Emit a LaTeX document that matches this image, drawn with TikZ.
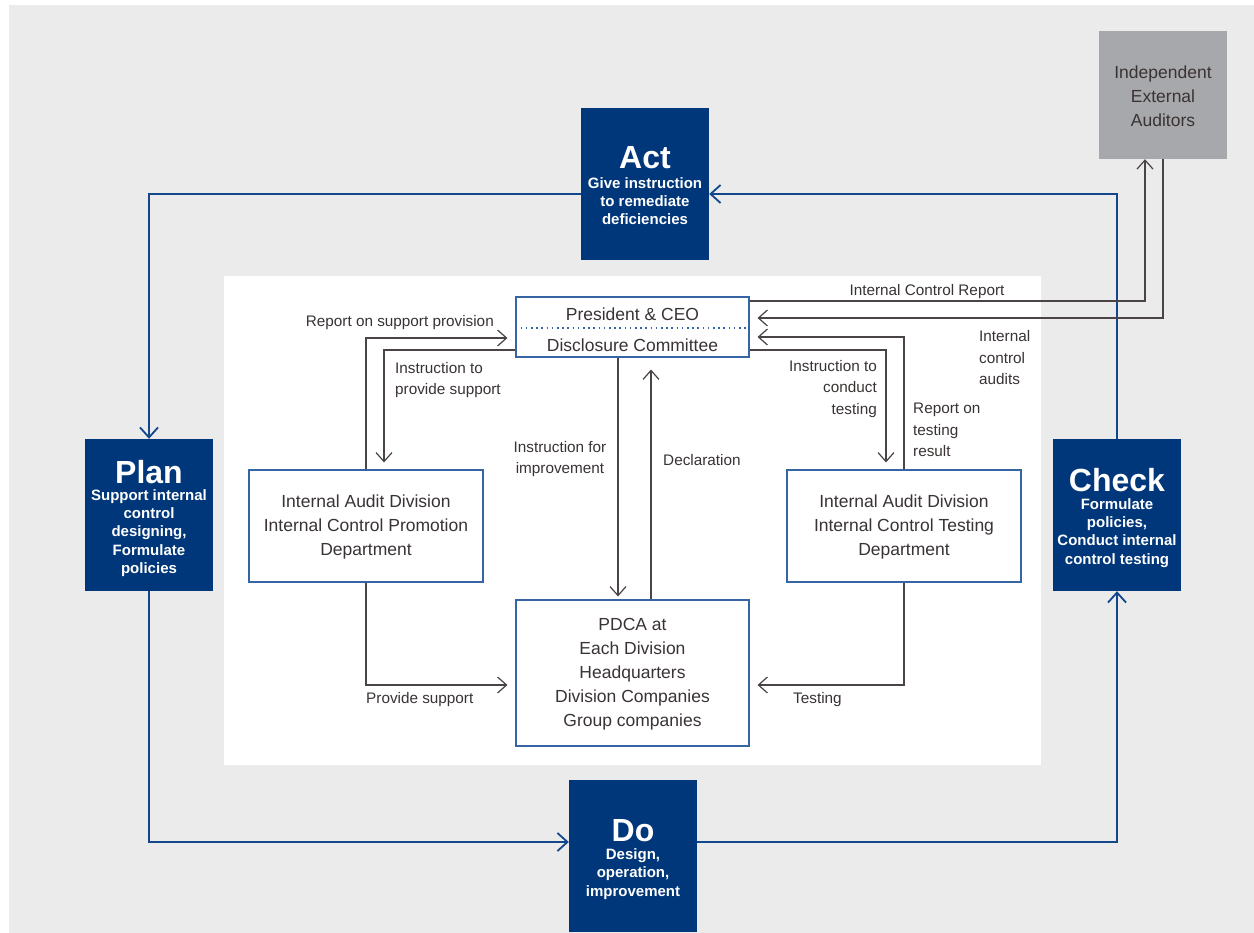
\documentclass[tikz,border=0pt]{standalone}
\usepackage{fontspec}
\setmainfont{Liberation Sans}
\usetikzlibrary{arrows.meta}
\definecolor{bggray}{HTML}{EBEBEB}
\definecolor{pdcablue}{HTML}{00377A}
\definecolor{pdcaline}{HTML}{14468C}
\definecolor{audgray}{HTML}{A7A8AB}
\definecolor{innerline}{HTML}{4A4444}
\definecolor{txtcol}{HTML}{3A3333}
\definecolor{boxline}{HTML}{3565A5}
\begin{document}
\begin{tikzpicture}[x=1pt,y=-1pt,
  pdcabox/.style={fill=pdcablue, draw=none, minimum width=128pt, minimum height=152pt, inner sep=0pt},
  pdcatitle/.style={text=white, font=\bfseries\fontsize{32}{34}\selectfont, inner sep=0pt},
  pdcasub/.style={text=white, font=\bfseries\fontsize{15}{18.3}\selectfont, align=center, inner sep=0pt},
  audbox/.style={fill=audgray, draw=none, minimum width=128pt, minimum height=128pt, inner sep=0pt},
  innerbox/.style={draw=boxline, line width=1.1pt, fill=white, inner sep=0pt},
  boxtext/.style={text=txtcol, font=\fontsize{17.5}{24}\selectfont, align=center, inner sep=0pt},
  lbl/.style={text=txtcol, font=\fontsize{15.3}{21.5}\selectfont, inner sep=0pt},
  bluearrow/.style={draw=pdcaline, line width=2pt, -{Straight Barb[length=10pt,width=18pt,line width=1.8pt]}},
  grayarrow/.style={draw=innerline, line width=1.3pt, -{Straight Barb[length=9pt,width=16pt,line width=1.2pt]}},
  dotline/.style={draw=boxline, line width=1.6pt, dash pattern=on 1.6pt off 3.6pt}
]
\useasboundingbox (0,0) rectangle (1254,933);
\fill[white] (0,0) rectangle (1254,933);
\fill[bggray] (9,5) rectangle (1254,933);
\fill[white] (224,276) rectangle (1041,765);

% PDCA boxes
\node[pdcabox] (act) at (645,184) {};
\node[pdcatitle] (actT) at (645,158) {Act};
\node[pdcasub] (actS) at (645,201) {Give instruction\\to remediate\\deficiencies};

\node[pdcabox] (plan) at (149,515) {};
\node[pdcatitle] (planT) at (149,472) {Plan};
\node[pdcasub] (planS) at (149,533) {Support internal\\control\\designing,\\Formulate\\policies};

\node[pdcabox] (check) at (1117,515) {};
\node[pdcatitle] (checkT) at (1117,480) {Check};
\node[pdcasub] (checkS) at (1117,533) {Formulate\\policies,\\Conduct internal\\control testing};

\node[pdcabox] (do) at (633,856) {};
\node[pdcatitle] (doT) at (633,831) {Do};
\node[pdcasub] (doS) at (633,874) {Design,\\operation,\\improvement};

% auditors
\node[audbox] (aud) at (1163,95) {};
\node[boxtext] (audT) at (1163,96) {Independent\\External\\Auditors};

% inner boxes
\node[innerbox, minimum width=233pt, minimum height=60pt] (pres) at (632.5,327) {};
\node[boxtext] (presT) at (632.5,314) {President \& CEO};
\node[boxtext] (discT) at (632.5,345) {Disclosure Committee};
\draw[dotline] ([yshift=-1pt]pres.west) -- ([yshift=-1pt]pres.east);

\node[innerbox, minimum width=234pt, minimum height=112pt] (lbox) at (366,526) {};
\node[boxtext] (lboxT) at (366,527) {Internal Audit Division\\Internal Control Promotion\\Department};

\node[innerbox, minimum width=234pt, minimum height=112pt] (rbox) at (904,526) {};
\node[boxtext] (rboxT) at (904,527) {Internal Audit Division\\Internal Control Testing\\Department};

\node[innerbox, minimum width=233pt, minimum height=146pt] (pdca) at (632.5,673) {};
\node[boxtext] (pdcaT) at (632.5,674) {PDCA at\\Each Division\\Headquarters\\Division Companies\\Group companies};

% PDCA cycle arrows
\draw[bluearrow] ([yshift=-10pt]act.west) -| (plan.north);
\draw[bluearrow] (plan.south) |- ([yshift=14pt]do.west);
\draw[bluearrow] ([yshift=14pt]do.east) -| (check.south);
\draw[bluearrow] (check.north) |- ([yshift=-10pt]act.east);

% auditors arrows
\draw[grayarrow] ([yshift=26pt]pres.east) -| ([xshift=-18pt]aud.south);
\draw[grayarrow] (aud.south) |- ([xshift=8pt,yshift=9pt]pres.east);

% right side
\draw[grayarrow] (rbox.north) |- ([xshift=8pt,yshift=-10pt]pres.east);
\draw[grayarrow] ([yshift=-23pt]pres.east) -| ([xshift=-18pt,yshift=7pt]rbox.north);

% left side
\draw[grayarrow] (lbox.north) |- ([xshift=-8pt,yshift=-11pt]pres.west);
\draw[grayarrow] ([yshift=-23pt]pres.west) -| ([xshift=18pt,yshift=7pt]lbox.north);

% center
\draw[grayarrow] ([xshift=-14.5pt]pres.south) -- ([xshift=-14.5pt,yshift=3pt]pdca.north);
\draw[grayarrow] ([xshift=18.5pt]pdca.north) -- ([xshift=18.5pt,yshift=-12pt]pres.south);

% bottom
\draw[grayarrow] (lbox.south) |- ([xshift=-8pt,yshift=-12pt]pdca.west);
\draw[grayarrow] (rbox.south) |- ([xshift=8pt,yshift=-12pt]pdca.east);

% labels
\node[lbl, anchor=east] (l1) at (494,323) {Report on support provision};
\node[lbl, anchor=west, align=left] (l2) at (395,380) {Instruction to\\provide support};
\node[lbl, align=center] (l3) at (560,459) {Instruction for\\improvement};
\node[lbl, anchor=west] (l4) at (663,460) {Declaration};
\node[lbl, anchor=east, align=right] (l5) at (877,389) {Instruction to\\conduct\\testing};
\node[lbl, anchor=west, align=left] (l6) at (913,430) {Report on\\testing\\result};
\node[lbl, anchor=west, align=left] (l7) at (979,358) {Internal\\control\\audits};
\node[lbl] (l8) at (927,292) {Internal Control Report};
\node[lbl, anchor=west] (l9) at (366,700) {Provide support};
\node[lbl, anchor=west] (l10) at (793,700) {Testing};
\end{tikzpicture}
\end{document}
